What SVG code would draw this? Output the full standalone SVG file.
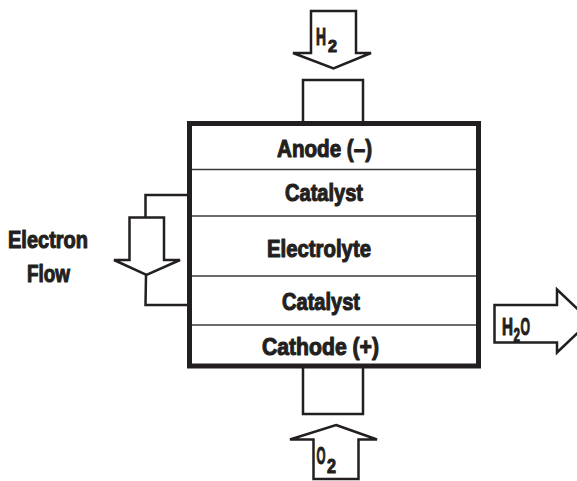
<svg xmlns="http://www.w3.org/2000/svg" width="577" height="481" viewBox="0 0 577 481">
<style>
  .ln { fill: none; stroke: #231f20; stroke-width: 2.5; stroke-linejoin: miter; }
  .arr { fill: #ffffff; stroke: #231f20; stroke-width: 2.5; stroke-linejoin: miter; }
  .sep { stroke: #3a3a3a; stroke-width: 1.5; }
  .lbl { font-family: "Liberation Sans", Arial, sans-serif; font-weight: bold; font-size: 24px; fill: #231f20; stroke: #231f20; stroke-width: 1.1; stroke-linejoin: round; }
</style>
<rect width="577" height="481" fill="#ffffff"/>

<g id="connectors">
  <polyline class="ln" points="190,195 145.5,195 145.5,217.5"/>
  <polyline class="ln" points="146,275 145.5,305 190,305"/>
</g>

<g id="h2-inlet">
  <rect class="ln" x="303" y="80" width="60" height="43.5"/>
  <path class="arr" d="M311,11 H356 V53 H371 L333.5,68.5 L293,53 H311 Z"/>
  <text class="lbl" x="316" y="45"><tspan textLength="10" lengthAdjust="spacingAndGlyphs">H</tspan><tspan x="328" dy="6.5" font-size="17" textLength="9" lengthAdjust="spacingAndGlyphs">2</tspan></text>
</g>

<g id="o2-inlet">
  <rect class="ln" x="303" y="366" width="60" height="48"/>
  <path class="arr" d="M336,425 L377,439.5 H358.5 V479 H313.5 V439.5 H290 Z"/>
  <text class="lbl" x="316.5" y="464"><tspan textLength="9" lengthAdjust="spacingAndGlyphs">O</tspan><tspan x="327" dy="9.3" font-size="21" textLength="9" lengthAdjust="spacingAndGlyphs">2</tspan></text>
</g>

<g id="electron-flow">
  <path class="arr" d="M129.5,217.5 H164 V260 H180 L146.5,275 L114,260 H129.5 Z"/>
  <text class="lbl" x="8" y="248" textLength="80" lengthAdjust="spacingAndGlyphs">Electron</text>
  <text class="lbl" x="27" y="282" textLength="43" lengthAdjust="spacingAndGlyphs">Flow</text>
</g>

<g id="h2o-outlet">
  <path class="arr" d="M494.5,305 H557 V289.5 L590,321 L557,352.5 V342.5 H494.5 Z"/>
  <text class="lbl" x="502" y="335"><tspan textLength="11" lengthAdjust="spacingAndGlyphs">H</tspan><tspan x="513.5" dy="6.7" font-size="21" textLength="6.5" lengthAdjust="spacingAndGlyphs">2</tspan><tspan x="520.5" dy="-6.7" textLength="9.5" lengthAdjust="spacingAndGlyphs">O</tspan></text>
</g>

<g id="fuel-cell">
  <rect x="189.5" y="123.5" width="289" height="242.5" fill="#ffffff" stroke="#231f20" stroke-width="5"/>
  <line class="sep" x1="192" y1="169.5" x2="476" y2="169.5"/>
  <line class="sep" x1="192" y1="216" x2="476" y2="216"/>
  <line class="sep" x1="192" y1="276" x2="476" y2="276"/>
  <line class="sep" x1="192" y1="325" x2="476" y2="325"/>
</g>

<g id="anode">
  <text class="lbl" x="277" y="156.7" textLength="95" lengthAdjust="spacingAndGlyphs">Anode (–)</text>
</g>
<g id="catalyst-top">
  <text class="lbl" x="285" y="200.5" textLength="78" lengthAdjust="spacingAndGlyphs">Catalyst</text>
</g>
<g id="electrolyte">
  <text class="lbl" x="267" y="256.7" textLength="104" lengthAdjust="spacingAndGlyphs">Electrolyte</text>
</g>
<g id="catalyst-bottom">
  <text class="lbl" x="282" y="310" textLength="78" lengthAdjust="spacingAndGlyphs">Catalyst</text>
</g>
<g id="cathode">
  <text class="lbl" x="262" y="355" textLength="117" lengthAdjust="spacingAndGlyphs">Cathode (+)</text>
</g>
</svg>
